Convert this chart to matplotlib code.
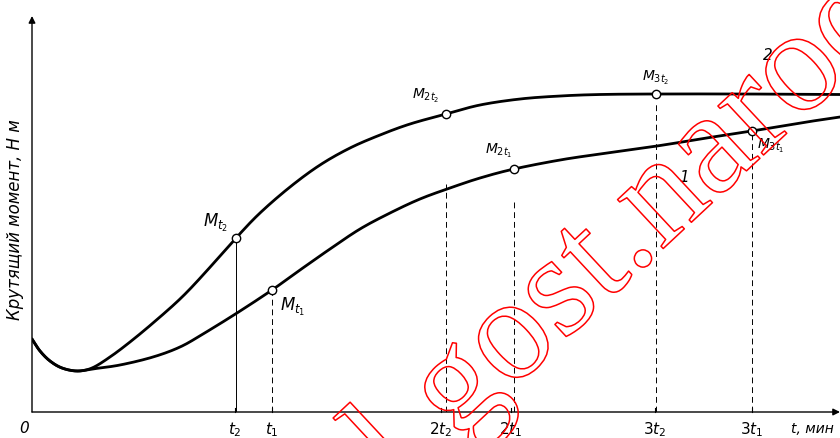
import matplotlib
matplotlib.use("Agg")
import matplotlib.pyplot as plt
import matplotlib.patheffects as pe
import numpy as np

plt.rcParams['mathtext.fontset'] = 'dejavusans'
plt.rcParams['font.family'] = ['DejaVu Sans']

# ---- data (x: time units, y: torque units) ----
curve2_x = [0, 0.08, 0.18, 0.30, 0.45, 0.60, 0.78, 0.98, 1.21, 1.48, 1.71, 2.04, 2.28, 2.58, 2.88,
            3.18, 3.48, 3.78, 4.14, 4.48, 4.88, 5.28, 5.68, 6.24, 7.08, 8.08]
curve2_y = [0.73, 0.61, 0.51, 0.44, 0.41, 0.44, 0.55, 0.70, 0.89, 1.13, 1.37, 1.74, 1.99, 2.25, 2.47,
            2.64, 2.77, 2.88, 2.98, 3.07, 3.13, 3.16, 3.175, 3.18, 3.18, 3.175]

curve1_x = [0, 0.08, 0.18, 0.30, 0.45, 0.60, 0.88, 1.21, 1.48, 1.71, 2.05, 2.40, 2.68, 2.98, 3.28,
            3.58, 3.88, 4.18, 4.48, 4.82, 5.28, 5.68, 6.25, 6.68, 7.20, 7.68, 8.08]
curve1_y = [0.73, 0.61, 0.51, 0.44, 0.41, 0.43, 0.47, 0.55, 0.65, 0.78, 0.99, 1.22, 1.42, 1.63, 1.83,
            1.99, 2.13, 2.24, 2.34, 2.43, 2.52, 2.58, 2.66, 2.73, 2.81, 2.89, 2.95]

tick_pos = [2.03, 2.40, 4.09, 4.79, 6.23, 7.20]
tick_labels = ['$t_2$', '$t_1$', '$2t_2$', '$2t_1$', '$3t_2$', '$3t_1$']

m2_x = [2.04, 4.14, 6.24]          # markers on curve 2
m2_labels = ['$M_{t_2}$', '$M_{2t_2}$', '$M_{3t_2}$']
m1_x = [2.40, 4.82, 7.20]          # markers on curve 1
m1_labels = ['$M_{t_1}$', '$M_{2t_1}$', '$M_{3t_1}$']

xlabel = 't, мин'
ylabel = 'Крутящий момент, Н м'
watermark = 'l.gost.narod.ru'


def smooth(xs, ys, n=24):
    """Catmull-Rom curve through the given points (drawing only)."""
    p = np.column_stack([xs, ys]).astype(float)
    p = np.vstack([2 * p[0] - p[1], p, 2 * p[-1] - p[-2]])
    out = []
    for i in range(1, len(p) - 2):
        p0, p1, p2, p3 = p[i - 1], p[i], p[i + 1], p[i + 2]
        t = np.linspace(0, 1, n, endpoint=False)[:, None]
        seg = 0.5 * ((2 * p1) + (-p0 + p2) * t + (2 * p0 - 5 * p1 + 4 * p2 - p3) * t ** 2
                     + (-p0 + 3 * p1 - 3 * p2 + p3) * t ** 3)
        out.append(seg)
    out.append(p[-2][None, :])
    out = np.vstack(out)
    return out[:, 0], out[:, 1]


W, H = 840, 439
fig = plt.figure(figsize=(W / 100, H / 100), dpi=100)
x0, y0 = 32, 413
ax = fig.add_axes([x0 / W, (H - y0) / H, (W - x0) / W, y0 / H])
ax.set_xlim(0, (W - x0) / 100)
ax.set_ylim(0, y0 / 100)
ax.axis('off')

# curves
sx, sy = smooth(curve2_x, curve2_y)
ax.plot(sx, sy, color='black', lw=2.0, solid_capstyle='round', zorder=3)
sx, sy = smooth(curve1_x, curve1_y)
ax.plot(sx, sy, color='black', lw=2.0, solid_capstyle='round', zorder=3)

m2_y = np.interp(m2_x, curve2_x, curve2_y)
m1_y = np.interp(m1_x, curve1_x, curve1_y)

# verticals
ax.plot([m2_x[0], m2_x[0]], [0, m2_y[0]], color='black', lw=0.7, zorder=2)
for xv, yv in [(m1_x[0], m1_y[0]), (m1_x[1], m1_y[1] - 0.3), (m2_x[1], m2_y[1] - 0.7),
               (m2_x[2], m2_y[2] - 0.1), (m1_x[2], m1_y[2])]:
    ax.plot([xv, xv], [0, yv], color='black', lw=0.7, ls=(0, (6, 4)), zorder=2)

# markers
ax.plot(m2_x, m2_y, 'o', ms=6, mfc='white', mec='black', mew=1.0, zorder=4)
ax.plot(m1_x, m1_y, 'o', ms=6, mfc='white', mec='black', mew=1.0, zorder=4)

# marker labels
ax.text(m2_x[0] - 0.08, m2_y[0] + 0.05, m2_labels[0], fontsize=12, ha='right', va='bottom')
ax.text(m1_x[0] + 0.08, m1_y[0] - 0.05, m1_labels[0], fontsize=12, ha='left', va='top')
ax.text(m2_x[1] - 0.2, m2_y[1] + 0.1, m2_labels[1], fontsize=10, ha='center', va='bottom')
ax.text(m1_x[1] - 0.15, m1_y[1] + 0.1, m1_labels[1], fontsize=10, ha='center', va='bottom')
ax.text(m2_x[2], m2_y[2] + 0.08, m2_labels[2], fontsize=10, ha='center', va='bottom')
ax.text(m1_x[2] + 0.05, m1_y[2] - 0.05, m1_labels[2], fontsize=10, ha='left', va='top')

# curve numbers
ax.text(7.36, 3.58, '2', fontsize=11, style='italic', ha='center', va='center')
ax.text(6.52, 2.36, '1', fontsize=11, style='italic', ha='center', va='center')

# axes with arrows
ax.annotate('', xy=(8.08, 0), xytext=(0, 0), annotation_clip=False,
            arrowprops=dict(arrowstyle='-|>', color='black', lw=1.0, mutation_scale=10, shrinkA=0, shrinkB=0))
ax.annotate('', xy=(0, 3.96), xytext=(0, 0), annotation_clip=False,
            arrowprops=dict(arrowstyle='-|>', color='black', lw=1.0, mutation_scale=10, shrinkA=0, shrinkB=0))

# ticks and labels
for p, lab in zip(tick_pos, tick_labels):
    ax.plot([p, p], [0, 0.04], color='black', lw=0.8, clip_on=False)
    ax.text(p, -0.07, lab, fontsize=11, ha='center', va='top', clip_on=False)
ax.text(-0.08, -0.08, '0', fontsize=11, style='italic', ha='center', va='top')
ax.text(7.8, -0.09, xlabel, fontsize=10, style='italic', ha='center', va='top')
ax.text(-0.17, 1.93, ylabel, fontsize=12, style='italic', rotation=90, ha='center', va='center')

# watermark
fig.text(400 / W, 1 - 495 / H, watermark, fontsize=105, family='Liberation Serif',
         rotation=43, rotation_mode='anchor', ha='left', va='baseline',
         color=(1, 1, 1, 0),
         path_effects=[pe.Stroke(linewidth=1.1, foreground='red')], zorder=10)

fig.savefig('out.png', dpi=100)
